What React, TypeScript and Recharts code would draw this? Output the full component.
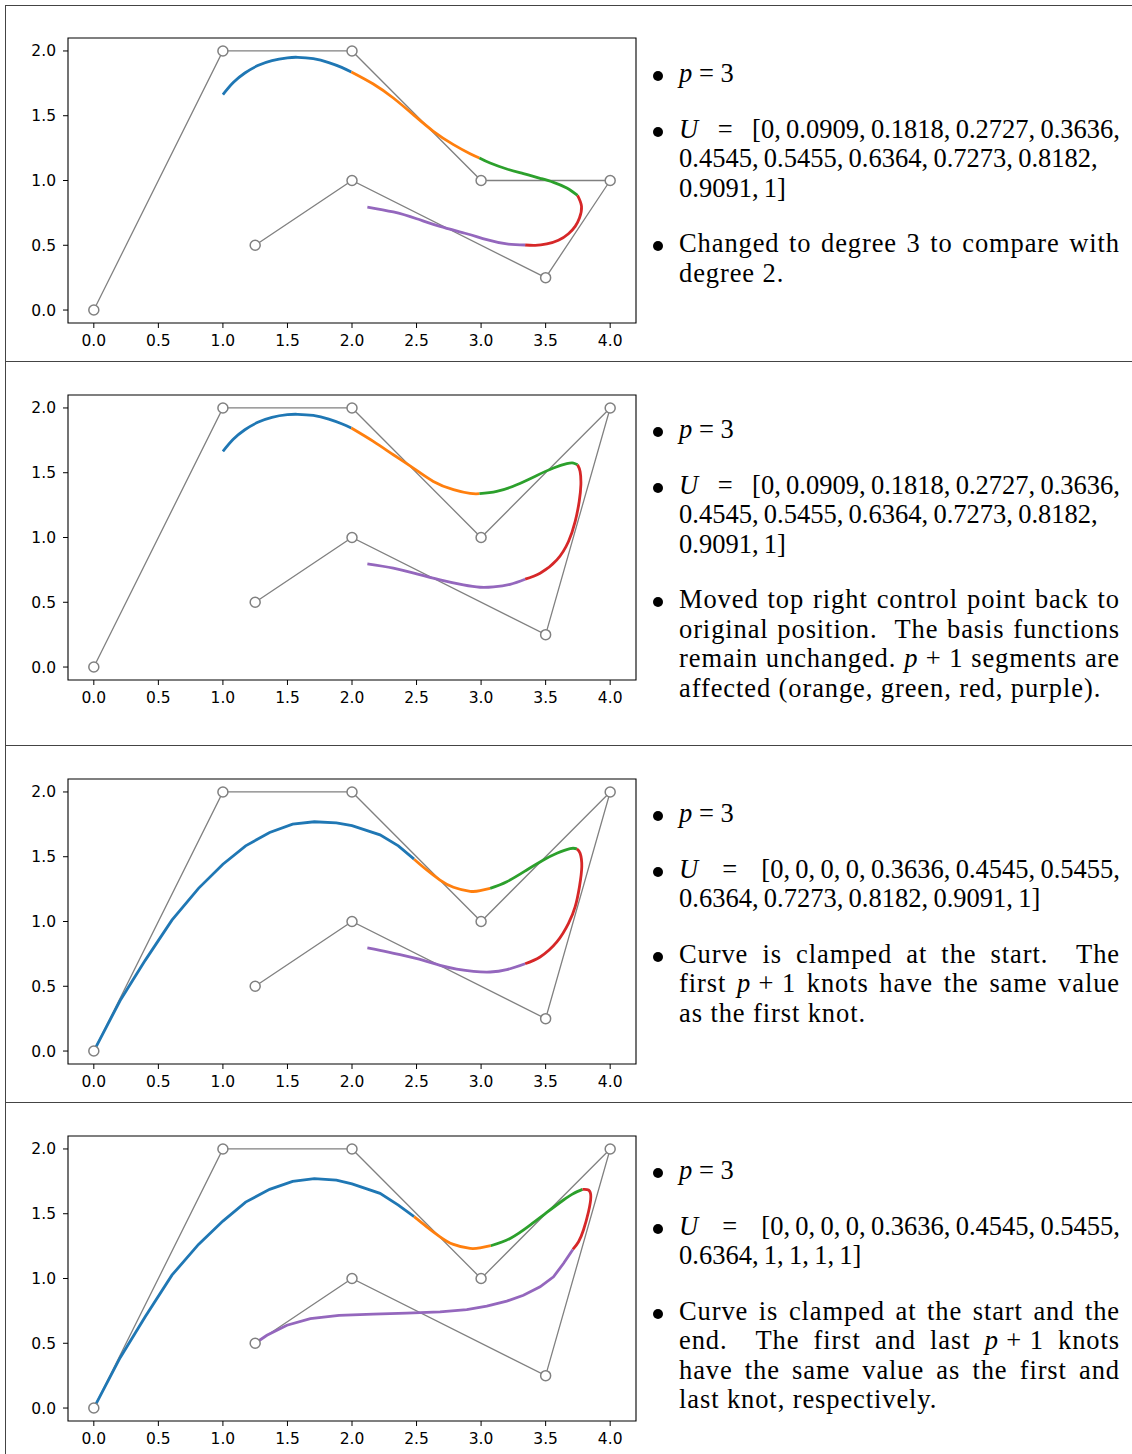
import React from 'react'
import { LineChart, Line, XAxis, YAxis, ReferenceArea } from 'recharts'

type Pt = [number, number]
type CurveKind = 'natural' | 'linear'
type Segment = { pts: Pt[]; color: string; curve: CurveKind }

// control polygons (second one has the top right point moved back to (4, 2))
const polyA: Pt[] = [[0, 0], [1, 2], [2, 2], [3, 1], [4, 1], [3.5, 0.25], [2, 1], [1.25, 0.5]]
const polyB: Pt[] = [[0, 0], [1, 2], [2, 2], [3, 1], [4, 2], [3.5, 0.25], [2, 1], [1.25, 0.5]]

const xTicks = [0, 0.5, 1, 1.5, 2, 2.5, 3, 3.5, 4]
const yTicks = [0, 0.5, 1, 1.5, 2]

const BLUE = '#1f77b4'
const ORANGE = '#ff7f0e'
const GREEN = '#2ca02c'
const RED = '#d62728'
const PURPLE = '#9467bd'

// panel 1: degree 3, uniform knots
const blue1: Pt[] = [[1.0, 1.663], [1.08, 1.756], [1.17, 1.83], [1.27, 1.887], [1.38, 1.926], [1.5, 1.947], [1.58, 1.951], [1.7, 1.94], [1.82, 1.91], [1.92, 1.873], [1.995, 1.838]]
const orange1: Pt[] = [[1.995, 1.838], [2.165, 1.745], [2.32, 1.637], [2.475, 1.508], [2.63, 1.38], [2.786, 1.277], [2.915, 1.207], [2.987, 1.174]]
const green1: Pt[] = [[2.987, 1.174], [3.07, 1.135], [3.199, 1.089], [3.328, 1.053], [3.457, 1.017], [3.561, 0.986], [3.664, 0.942], [3.747, 0.885]]
const red1: Pt[] = [[3.747, 0.885], [3.778, 0.8], [3.762, 0.71], [3.729, 0.646], [3.677, 0.589], [3.599, 0.538], [3.509, 0.51], [3.419, 0.499], [3.341, 0.502]]
const purple1: Pt[] = [[3.341, 0.502], [3.199, 0.51], [3.044, 0.543], [2.889, 0.589], [2.682, 0.646], [2.501, 0.705], [2.32, 0.757], [2.119, 0.795]]

// panel 2: top right control point moved back
const blue2: Pt[] = [[1.0, 1.665], [1.08, 1.758], [1.17, 1.832], [1.27, 1.889], [1.38, 1.928], [1.5, 1.948], [1.58, 1.951], [1.7, 1.942], [1.82, 1.914], [1.92, 1.878], [1.995, 1.845]]
const orange2: Pt[] = [[1.995, 1.845], [2.165, 1.742], [2.32, 1.639], [2.475, 1.536], [2.63, 1.433], [2.786, 1.369], [2.915, 1.34], [2.987, 1.338]]
const green2: Pt[] = [[2.987, 1.338], [3.121, 1.356], [3.276, 1.407], [3.432, 1.479], [3.561, 1.536], [3.664, 1.57], [3.716, 1.575], [3.747, 1.562]]
const red2: Pt[] = [[3.747, 1.562], [3.767, 1.51], [3.773, 1.407], [3.76, 1.278], [3.729, 1.124], [3.677, 0.969], [3.587, 0.827], [3.457, 0.724], [3.341, 0.678]]
const purple2: Pt[] = [[3.341, 0.678], [3.225, 0.639], [3.096, 0.619], [2.992, 0.616], [2.863, 0.634], [2.682, 0.673], [2.501, 0.719], [2.32, 0.763], [2.119, 0.796]]

// panel 3: clamped at the start
const blue3: Pt[] = [[0, 0], [0.204, 0.39], [0.398, 0.7], [0.605, 1.01], [0.811, 1.256], [1.0, 1.442], [1.176, 1.584], [1.362, 1.687], [1.54, 1.752], [1.708, 1.77], [1.879, 1.762], [2.0, 1.74], [2.217, 1.669], [2.359, 1.584], [2.481, 1.481]]
const orange3: Pt[] = [[2.481, 1.481], [2.579, 1.398], [2.682, 1.32], [2.786, 1.264], [2.915, 1.233], [2.992, 1.238], [3.07, 1.256]]
const green3: Pt[] = [[3.07, 1.256], [3.199, 1.307], [3.354, 1.398], [3.483, 1.475], [3.587, 1.527], [3.69, 1.563], [3.742, 1.561]]
const red3: Pt[] = [[3.742, 1.561], [3.767, 1.527], [3.78, 1.424], [3.762, 1.269], [3.729, 1.114], [3.677, 0.985], [3.587, 0.842], [3.457, 0.726], [3.341, 0.674]]
const purple3: Pt[] = [[3.341, 0.674], [3.199, 0.628], [3.07, 0.61], [2.941, 0.615], [2.811, 0.633], [2.682, 0.661], [2.553, 0.7], [2.372, 0.744], [2.217, 0.778], [2.119, 0.796]]

// panel 4: clamped at both ends
const blue4: Pt[] = [[0, 0], [0.204, 0.389], [0.398, 0.704], [0.605, 1.026], [0.811, 1.263], [1.0, 1.443], [1.176, 1.59], [1.362, 1.688], [1.54, 1.75], [1.708, 1.771], [1.879, 1.76], [2.0, 1.73], [2.217, 1.657], [2.359, 1.567], [2.481, 1.477]]
const orange4: Pt[] = [[2.481, 1.477], [2.579, 1.399], [2.682, 1.322], [2.786, 1.263], [2.915, 1.232], [2.992, 1.237], [3.075, 1.253]]
const green4: Pt[] = [[3.075, 1.253], [3.225, 1.309], [3.38, 1.412], [3.509, 1.51], [3.638, 1.606], [3.716, 1.657], [3.786, 1.688]]
const red4: Pt[] = [[3.786, 1.688], [3.832, 1.683], [3.85, 1.631], [3.832, 1.515], [3.793, 1.374], [3.755, 1.284], [3.711, 1.224]]
const purple4: Pt[] = [[3.711, 1.224], [3.638, 1.116], [3.561, 1.013], [3.457, 0.936], [3.328, 0.871], [3.199, 0.825], [3.044, 0.786], [2.889, 0.76], [2.682, 0.742], [2.424, 0.732], [2.165, 0.725], [1.9, 0.715], [1.677, 0.691], [1.496, 0.639], [1.341, 0.562], [1.25, 0.5]]

// note text; *x* marks math italics, T is the thin space after math commas
const T = '\u2009'
const M = '\u2005'
const uniformKnots = [
  `*U* = [0,${T}0.0909,${T}0.1818,${T}0.2727,${T}0.3636,`,
  `0.4545,${T}0.5455,${T}0.6364,${T}0.7273,${T}0.8182,`,
  `0.9091,${T}1]`,
]
const notes1 = [
  [`*p*${M}=${M}3`],
  uniformKnots,
  ['Changed to degree 3 to compare with', 'degree 2.'],
]
const notes2 = [
  [`*p*${M}=${M}3`],
  uniformKnots,
  [
    'Moved top right control point back to',
    'original position.  The basis functions',
    `remain unchanged. *p*${M}+${M}1 segments are`,
    'affected (orange, green, red, purple).',
  ],
]
const notes3 = [
  [`*p*${M}=${M}3`],
  [`*U* = [0,${T}0,${T}0,${T}0,${T}0.3636,${T}0.4545,${T}0.5455,`, `0.6364,${T}0.7273,${T}0.8182,${T}0.9091,${T}1]`],
  ['Curve is clamped at the start.  The', `first *p*${M}+${M}1 knots have the same value`, 'as the first knot.'],
]
const notes4 = [
  [`*p*${M}=${M}3`],
  [`*U* = [0,${T}0,${T}0,${T}0,${T}0.3636,${T}0.4545,${T}0.5455,`, `0.6364,${T}1,${T}1,${T}1,${T}1]`],
  [
    'Curve is clamped at the start and the',
    `end.  The first and last *p*${M}+${M}1 knots`,
    'have the same value as the first and',
    'last knot, respectively.',
  ],
]

const rowTops = [5, 361, 745, 1102]
const plotTops = [38, 395, 779, 1136]

const rows = (pts: Pt[]) => pts.map(([x, y]) => ({ x, y }))
const fmt = (v: number) => v.toFixed(1)
const tickFont = { fontSize: 15.5, fill: '#000', fontFamily: 'DejaVu Sans' }

function SplinePlot({ top, polygon, segments }: { top: number; polygon: Pt[]; segments: Segment[] }) {
  return (
    <div style={{ position: 'absolute', left: 0, top: top - 10 }}>
      <LineChart width={650} height={325} margin={{ top: 10, right: 14, bottom: 0, left: 38 }}>
        <XAxis
          type="number"
          dataKey="x"
          domain={[-0.2, 4.2]}
          ticks={xTicks}
          allowDataOverflow
          tickFormatter={fmt}
          height={30}
          axisLine={false}
          tickSize={5}
          tickMargin={7}
          tick={tickFont}
          tickLine={{ stroke: '#000' }}
        />
        <YAxis
          type="number"
          domain={[-0.1, 2.1]}
          ticks={yTicks}
          allowDataOverflow
          tickFormatter={fmt}
          width={30}
          axisLine={false}
          tickSize={5}
          tickMargin={7}
          tick={tickFont}
          tickLine={{ stroke: '#000' }}
        />
        <ReferenceArea x1={-0.2} x2={4.2} y1={-0.1} y2={2.1} fill="none" stroke="#000" strokeWidth={1.1} />
        <Line
          data={rows(polygon)}
          dataKey="y"
          type="linear"
          stroke="#808080"
          strokeWidth={1.3}
          dot={{ r: 5, stroke: '#808080', strokeWidth: 1.5, fill: '#fff' }}
          activeDot={false}
          isAnimationActive={false}
        />
        {segments.map((s, i) => (
          <Line
            key={i}
            data={rows(s.pts)}
            dataKey="y"
            type={s.curve}
            stroke={s.color}
            strokeWidth={2.8}
            dot={false}
            activeDot={false}
            isAnimationActive={false}
          />
        ))}
      </LineChart>
    </div>
  )
}

function MathLine({ text }: { text: string }) {
  const parts = text.split('*')
  return <>{parts.map((p, i) => (i % 2 === 1 ? <i key={i}>{p}</i> : <span key={i}>{p}</span>))}</>
}

function Notes({ top, items }: { top: number; items: string[][] }) {
  const out: React.ReactNode[] = []
  let base = top + 77
  items.forEach((lines, k) => {
    // the prose paragraph is set a touch wider so its gaps stay close to normal
    const prose = k === 2
    out.push(
      <div
        key={`b${k}`}
        style={{ position: 'absolute', left: 653, top: base - 11, width: 10, height: 10, borderRadius: '50%', background: '#000' }}
      />
    )
    lines.forEach((ln, j) => {
      const last = j === lines.length - 1
      out.push(
        <div
          key={`${k}-${j}`}
          style={{
            position: 'absolute',
            left: 679,
            top: base - 24,
            width: 441,
            height: 30,
            lineHeight: '30px',
            fontSize: 26.5,
            fontFamily: "'Liberation Serif', 'DejaVu Serif', serif",
            letterSpacing: prose ? 0.9 : 0,
            color: '#000',
            textAlign: last ? 'left' : 'justify',
            textAlignLast: last ? 'left' : 'justify',
            whiteSpace: 'pre-wrap',
          }}
        >
          <MathLine text={ln} />
        </div>
      )
      if (!last) base += 29.5
    })
    base += 55.5
  })
  return <>{out}</>
}

const panels = [
  { polygon: polyA, notes: notes1, segs: [
    { pts: blue1, color: BLUE, curve: 'natural' }, { pts: orange1, color: ORANGE, curve: 'natural' },
    { pts: green1, color: GREEN, curve: 'natural' }, { pts: red1, color: RED, curve: 'natural' },
    { pts: purple1, color: PURPLE, curve: 'natural' },
  ] as Segment[] },
  { polygon: polyB, notes: notes2, segs: [
    { pts: blue2, color: BLUE, curve: 'natural' }, { pts: orange2, color: ORANGE, curve: 'natural' },
    { pts: green2, color: GREEN, curve: 'natural' }, { pts: red2, color: RED, curve: 'natural' },
    { pts: purple2, color: PURPLE, curve: 'natural' },
  ] as Segment[] },
  { polygon: polyB, notes: notes3, segs: [
    { pts: blue3, color: BLUE, curve: 'linear' }, { pts: orange3, color: ORANGE, curve: 'natural' },
    { pts: green3, color: GREEN, curve: 'natural' }, { pts: red3, color: RED, curve: 'natural' },
    { pts: purple3, color: PURPLE, curve: 'natural' },
  ] as Segment[] },
  { polygon: polyB, notes: notes4, segs: [
    { pts: blue4, color: BLUE, curve: 'linear' }, { pts: orange4, color: ORANGE, curve: 'natural' },
    { pts: green4, color: GREEN, curve: 'natural' }, { pts: red4, color: RED, curve: 'natural' },
    { pts: purple4, color: PURPLE, curve: 'linear' },
  ] as Segment[] },
]

export default function App() {
  return (
    <div style={{ position: 'absolute', left: 0, top: 0, width: 1132, height: 1454, background: '#fff', overflow: 'hidden' }}>
      {/* table rules */}
      <div style={{ position: 'absolute', left: 5, top: 5, width: 1, height: 1449, background: '#444' }} />
      {rowTops.map((y) => (
        <div key={y} style={{ position: 'absolute', left: 5, top: y, width: 1127, height: 1, background: '#444' }} />
      ))}
      {panels.map((p, i) => (
        <React.Fragment key={i}>
          <SplinePlot top={plotTops[i]} polygon={p.polygon} segments={p.segs} />
          <Notes top={rowTops[i]} items={p.notes} />
        </React.Fragment>
      ))}
    </div>
  )
}
